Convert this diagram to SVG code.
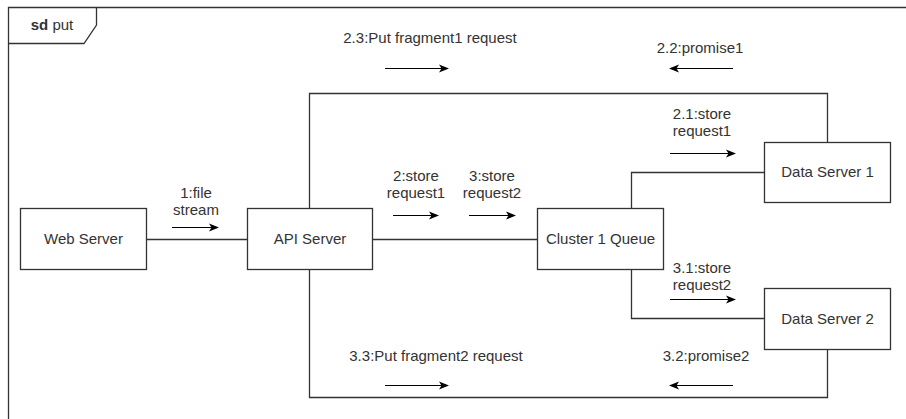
<svg xmlns="http://www.w3.org/2000/svg" width="906" height="419" viewBox="0 0 906 419">
  <defs>
    <marker id="head" viewBox="0 0 10 10" refX="9" refY="5" markerWidth="10" markerHeight="10" markerUnits="userSpaceOnUse" orient="auto">
      <path d="M0,1 L10,5 L0,9 L2.5,5 Z" fill="#000"/>
    </marker>
  </defs>
  <style>
    .box { fill: #fff; stroke: #333; stroke-width: 1.3; }
    .frame { fill: none; stroke: #333; stroke-width: 1.3; }
    .link { fill: none; stroke: #333; stroke-width: 1.3; }
    .msg { fill: none; stroke: #000; stroke-width: 1.2; marker-end: url(#head); }
    text { font-family: "Liberation Sans", Arial, sans-serif; font-size: 15px; fill: #333; text-anchor: middle; }
  </style>
  <rect width="906" height="419" fill="#fff"/>

  <!-- sequence frame -->
  <g id="frame">
    <path class="frame" d="M8.5,420 V7.5 H910"/>
    <path class="frame" d="M8.5,43.5 H84 L96.5,25 V7.5"/>
    <text x="52" y="30"><tspan font-weight="bold">sd</tspan> put</text>
  </g>

  <!-- connectors -->
  <g id="connectors">
    <path class="link" d="M147,239.5 H247"/>
    <path class="link" d="M372,239.5 H537"/>
    <path class="link" d="M309.5,208 V93.5 H827.5 V142"/>
    <path class="link" d="M631.5,208 V172.5 H764"/>
    <path class="link" d="M631.5,269 V318.5 H764"/>
    <path class="link" d="M309.5,269 V397.5 H827.5 V349"/>
  </g>

  <!-- message labels and arrows -->
  <g id="messages">
    <text x="196" y="198">1:file</text>
    <text x="196" y="215">stream</text>
    <path class="msg" d="M172,227.5 H218"/>

    <text x="416" y="181">2:store</text>
    <text x="416" y="198">request1</text>
    <path class="msg" d="M393,215.5 H438"/>

    <text x="492" y="181">3:store</text>
    <text x="492" y="198">request2</text>
    <path class="msg" d="M469,215.5 H515"/>

    <text x="430" y="43">2.3:Put fragment1 request</text>
    <path class="msg" d="M385,68.5 H448"/>

    <text x="700" y="53">2.2:promise1</text>
    <path class="msg" d="M733,68.5 H670"/>

    <text x="702" y="119">2.1:store</text>
    <text x="702" y="136">request1</text>
    <path class="msg" d="M670,153.5 H735"/>

    <text x="702" y="273">3.1:store</text>
    <text x="702" y="290">request2</text>
    <path class="msg" d="M670,299.5 H735"/>

    <text x="436" y="361">3.3:Put fragment2 request</text>
    <path class="msg" d="M385,385.5 H448"/>

    <text x="706" y="361">3.2:promise2</text>
    <path class="msg" d="M733,385.5 H670"/>
  </g>

  <!-- nodes -->
  <g id="web-server">
    <rect class="box" x="20.5" y="208.5" width="126" height="61"/>
    <text x="83.5" y="244">Web Server</text>
  </g>
  <g id="api-server">
    <rect class="box" x="247.5" y="208.5" width="125" height="61"/>
    <text x="310" y="244">API Server</text>
  </g>
  <g id="cluster-queue">
    <rect class="box" x="537.5" y="208.5" width="126" height="61"/>
    <text x="600.5" y="244">Cluster 1 Queue</text>
  </g>
  <g id="data-server-1">
    <rect class="box" x="764.5" y="142.5" width="126" height="60"/>
    <text x="827.5" y="177">Data Server 1</text>
  </g>
  <g id="data-server-2">
    <rect class="box" x="764.5" y="288.5" width="126" height="61"/>
    <text x="827.5" y="324">Data Server 2</text>
  </g>
</svg>
